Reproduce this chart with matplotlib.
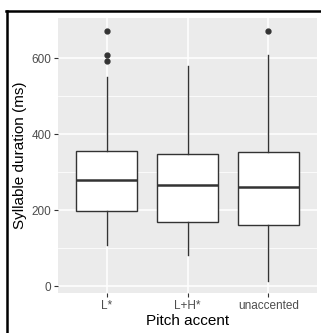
import matplotlib
matplotlib.use("Agg")
import matplotlib.pyplot as plt
from matplotlib.lines import Line2D

plt.rcParams['font.family'] = ['Liberation Sans', 'DejaVu Sans']

categories = ["L*", "L+H*", "unaccented"]
q1 = [198, 170, 161]
medians = [280, 267, 261]
q3 = [357, 349, 353]
whisker_low = [108, 82, 15]
whisker_high = [552, 580, 609]
outliers = [[672, 608, 594], [], [672]]

stats = []
for i, name in enumerate(categories):
    stats.append({
        "label": name,
        "q1": q1[i], "med": medians[i], "q3": q3[i],
        "whislo": whisker_low[i], "whishi": whisker_high[i],
        "fliers": outliers[i],
    })

fig = plt.figure(figsize=(3.21, 3.33), dpi=100)
ax = fig.add_axes([58 / 321, 1 - 293 / 333, (317 - 58) / 321, (293 - 18) / 333])
ax.set_facecolor("#EBEBEB")

ax.set_yticks([0, 200, 400, 600])
ax.set_yticks([100, 300, 500], minor=True)
ax.grid(True, which="major", color="white", linewidth=1.1)
ax.grid(True, which="minor", axis="y", color="white", linewidth=0.55)
ax.set_axisbelow(True)

ax.bxp(stats, positions=[1, 2, 3], widths=0.75, patch_artist=True, showcaps=False,
       boxprops=dict(facecolor="white", edgecolor="#333333", linewidth=1.0),
       medianprops=dict(color="#333333", linewidth=1.8),
       whiskerprops=dict(color="#333333", linewidth=1.0),
       flierprops=dict(marker="o", markerfacecolor="#333333", markeredgecolor="#333333",
                       markersize=3.5))

ax.set_xlim(0.4, 3.6)
ax.set_ylim(-17.5, 706)
for s in ax.spines.values():
    s.set_visible(False)
ax.tick_params(axis="both", which="major", length=2.75, width=0.8, color="#333333",
               labelcolor="#4D4D4D", labelsize=8.5, pad=2)
ax.tick_params(axis="both", which="minor", length=0)
ax.set_ylabel("Syllable duration (ms)", fontsize=11, color="black", labelpad=3)
ax.set_xlabel("Pitch accent", fontsize=11, color="black", labelpad=2)

# black frame from the screenshot
fig.add_artist(Line2D([7 / 321, 7 / 321], [0, 1 - 11 / 333], color="black", linewidth=1.8,
                      transform=fig.transFigure))
fig.add_artist(Line2D([6 / 321, 1], [1 - 11 / 333, 1 - 11 / 333], color="black", linewidth=1.8,
                      transform=fig.transFigure))

fig.savefig("out.png", dpi=100)
